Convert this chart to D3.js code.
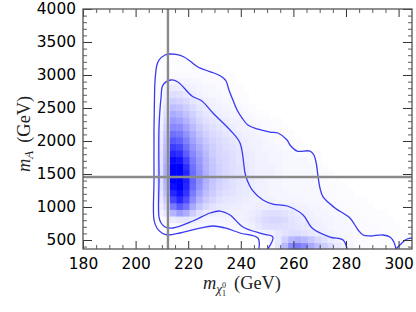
<!DOCTYPE html>
<html><head><meta charset="utf-8">
<script src="https://cdn.jsdelivr.net/npm/d3@7"></script>
<style>
html,body{margin:0;padding:0;background:#fff;overflow:hidden}
svg{display:block}
.tk text{font-family:"DejaVu Sans";font-size:15.4px;fill:#000}
.lab{font-family:"Liberation Serif",serif;fill:#222}
</style></head><body>
<svg id="c" width="416" height="312"></svg>
<script>
const xDomain=[180,305.1], yDomain=[363.6,4000];
const xMajor=[180,200,220,240,260,280,300];
const yMajor=[500,1000,1500,2000,2500,3000,3500,4000];
const xCellStart=208, xCellStep=2.5, yCellStart=363, yCellStep=100;
const refX=212.3, refY=1455;
const heatRows=[
[0,0,0,0,0,0,0,0,0,0,0,0,0,0,0,0,0,3,10,28,46,52,46,34,26,20,14,9,6,4,2,1,1,1,1,1,0,1,1],
[0,0,0,0,0,0,0,0,0,0,0,0,0,0,0,0,2,4,9,18,28,31,28,22,16,12,8,6,4,3,2,2,1,1,1,1,1,1,1],
[0,0,0,0,0,0,0,0,0,0,0,0,0,1,2,3,5,6,9,11,13,13,11,9,8,6,5,4,3,3,2,2,2,2,1,1,1,1,0],
[0,1,2,3,4,4,3,3,3,2,3,3,3,4,6,9,12,13,13,12,11,10,9,7,6,5,4,3,3,3,2,2,2,2,1,1,1,0,0],
[1,3,8,10,10,8,6,4,4,4,4,4,5,6,8,11,14,16,16,14,11,9,7,6,5,4,4,3,3,2,2,2,1,1,1,1,0,0,0],
[4,10,30,38,32,20,12,8,7,6,6,5,5,6,7,9,12,13,13,11,9,7,6,5,4,4,3,3,2,2,2,1,1,1,1],
[6,15,52,65,55,34,22,15,11,9,8,7,7,6,6,7,7,8,8,7,6,5,5,4,4,3,3,2,2,2,1,1,1],
[8,20,72,85,70,45,30,21,16,12,10,9,8,7,6,6,5,5,4,4,4,4,3,3,3,3,2,2,2,1,1,1],
[10,25,85,95,80,52,37,26,20,15,12,11,9,8,7,6,5,4,4,4,3,3,3,3,3,2,2,2,1,1],
[12,28,95,100,85,58,42,29,22,17,14,12,10,8,7,6,5,4,4,3,3,3,3,3,3,2,2,1,1],
[12,30,100,100,88,60,44,31,23,18,15,12,10,9,7,6,5,4,4,3,3,3,3,3,2,2,1,1],
[12,32,100,100,86,58,44,31,23,18,15,13,11,9,7,6,5,5,4,3,3,3,3,3,2,2,1],
[12,32,100,100,82,56,42,30,23,18,15,13,11,9,7,6,5,5,4,3,3,3,3,3,2,1],
[11,30,96,92,74,52,40,29,22,17,15,13,10,8,7,6,5,4,4,3,3,3,3,2,1],
[11,28,86,82,64,47,36,27,20,16,14,12,10,8,7,5,5,4,4,3,3,2,2,1,1],
[10,26,76,72,57,42,32,24,19,15,13,11,9,7,6,5,4,4,3,2,2,1,1],
[9,24,66,62,50,37,28,21,17,14,12,10,8,7,5,5,4,3,2,2,1,1],
[8,21,56,53,43,32,24,18,14,12,10,8,7,5,5,4,3,2,2,1,1],
[6,18,47,45,36,27,20,15,12,10,8,7,5,5,4,3,2,2,1,1],
[5,15,40,37,30,22,16,12,10,8,7,5,5,4,3,2,2,1,1],
[4,12,33,30,24,18,13,10,8,6,5,4,4,3,2,1,1],
[3,10,26,24,19,14,10,8,6,5,4,3,3,2,1],
[2,7,19,17,14,10,8,6,5,4,3,3,2,1],
[1,5,13,12,9,7,5,4,3,3,2,2,1,1],
[1,3,8,7,6,5,4,3,3,2,2,1,1],
[1,2,4,4,4,3,3,2,2,2,1,1],
[0,1,2,2,2,2,2,2,2,1,1,1],
[0,1,1,1,1,1,1,1,1,1],
[0,0,1,1,1,1]
];
const outerContour=[[299,364],[298.2,470],[296.7,545],[294.1,576],[289.1,561],[286.5,576],[284.6,652],[281.5,833],[275.8,985],[271.3,1152],[270.1,1288],[269.4,1455],[268.6,1682],[267.8,1788],[266.3,1848],[261.4,1848],[258.7,1939],[257.6,2015],[254.1,2121],[251.1,2136],[246.2,2182],[242.7,2242],[240.5,2348],[238.6,2470],[237,2621],[235.5,2773],[234.4,2909],[232.9,2970],[229.8,3030],[226.4,3076],[223.7,3121],[220.7,3212],[218.4,3273],[215.4,3311],[213.1,3318],[211.2,3303],[208.9,3227],[208.1,3152],[207.4,2924],[207.2,2697],[207,2167],[207,1409],[207,803],[208.1,682],[210,606],[212.3,576],[216.9,606],[223.3,667],[229.4,712],[234,682],[239.7,606],[246.5,530],[246.9,364]];
const innerContour=[[280.4,364],[278.9,500],[273.9,545],[267.1,682],[263.7,879],[257.6,1015],[252.2,1045],[248.4,1106],[244.3,1258],[242.4,1409],[241.6,1515],[239.7,1970],[235.9,2167],[229.4,2424],[225.2,2606],[221.4,2682],[216.1,2894],[213.5,2924],[210.4,2848],[209.7,2667],[208.9,2197],[208.9,1409],[208.9,848],[209.7,758],[211.2,697],[214.2,682],[221.8,788],[228.3,909],[232.1,939],[235.9,879],[240.8,697],[248.4,591],[252.2,545],[250.3,364]];
const cornerContour=[[299,364],[301.3,455],[303.2,515],[305.1,530]];

const L=83,R=412,T=9,B=249;
const svg=d3.select("#c");
const x=d3.scaleLinear().domain(xDomain).range([L,R]);
const y=d3.scaleLinear().domain(yDomain).range([B,T]);
const shade=d3.scaleLinear().domain([0,100]).range(["#ffffff","#0000ff"]);

const cells=heatRows.flatMap((row,r)=>row.map((v,c)=>({r,c,v}))).filter(d=>d.v>0);
svg.append("g").selectAll("rect").data(cells).join("rect")
 .attr("x",d=>x(xCellStart+d.c*xCellStep))
 .attr("y",d=>y(yCellStart+(d.r+1)*yCellStep))
 .attr("width",d=>x(xCellStart+(d.c+1)*xCellStep)-x(xCellStart+d.c*xCellStep)+.5)
 .attr("height",d=>y(yCellStart+d.r*yCellStep)-y(yCellStart+(d.r+1)*yCellStep)+.5)
 .attr("fill",d=>shade(d.v));

const line=d3.line().x(d=>x(d[0])).y(d=>y(d[1])).curve(d3.curveCatmullRom.alpha(.5));
svg.append("g").selectAll("path").data([outerContour,innerContour,cornerContour]).join("path")
 .attr("d",line).attr("fill","none").attr("stroke","#3a3af0").attr("stroke-width",1.3);

const refs=svg.append("g").attr("stroke","#8a8a8a").attr("stroke-width",2.4);
refs.append("line").attr("x1",x(refX)).attr("x2",x(refX)).attr("y1",T).attr("y2",B);
refs.append("line").attr("x1",L).attr("x2",R).attr("y1",y(refY)).attr("y2",y(refY));

const xMinor=d3.range(180,305,5).filter(v=>!xMajor.includes(v));
const yMinor=d3.range(400,4000,100).filter(v=>!yMajor.includes(v));
function ax(gen,tx,ty,ticks,size,labels){
 const g=svg.append("g").attr("class","tk").attr("transform",`translate(${tx},${ty})`)
  .call(gen.tickValues(ticks).tickSize(-size).tickSizeOuter(0).tickPadding(labels?7:0).tickFormat(labels?d3.format("d"):""));
 g.select(".domain").remove();
 g.selectAll(".tick line").attr("stroke","#333").attr("stroke-width",size>5?1:.8);
 return g;
}
ax(d3.axisBottom(x),0,B,xMajor,8,true).selectAll("text").attr("dy","0.85em");
ax(d3.axisBottom(x),0,B,xMinor,4,false);
ax(d3.axisTop(x),0,T,xMajor,8,false);
ax(d3.axisTop(x),0,T,xMinor,4,false);
ax(d3.axisLeft(y),L,0,yMajor,9,true);
ax(d3.axisLeft(y),L,0,yMinor,4,false);
ax(d3.axisRight(y),R,0,yMajor,9,false);
ax(d3.axisRight(y),R,0,yMinor,4,false);

svg.append("rect").attr("x",L).attr("y",T).attr("width",R-L).attr("height",B-T)
 .attr("fill","none").attr("stroke","#555").attr("stroke-width",1.3);

const xl=svg.append("text").attr("class","lab").attr("x",203).attr("y",289).attr("font-size",18.4);
xl.append("tspan").attr("font-style","italic").text("m");
xl.append("tspan").attr("font-style","italic").attr("font-size",13).attr("dy",4).text("χ");
xl.append("tspan").attr("font-size",8).attr("dy",3).text("1");
xl.append("tspan").attr("font-size",8).attr("dx",-4).attr("dy",-8).text("0");
xl.append("tspan").attr("dy",1).attr("dx",8).text("(GeV)");
const yl=svg.append("text").attr("class","lab").attr("transform","translate(30,172) rotate(-90)").attr("font-size",18.4);
yl.append("tspan").attr("font-style","italic").text("m");
yl.append("tspan").attr("font-style","italic").attr("font-size",13).attr("dy",3).text("A");
yl.append("tspan").attr("dy",-3).attr("dx",8).text("(GeV)");
</script></body></html>
